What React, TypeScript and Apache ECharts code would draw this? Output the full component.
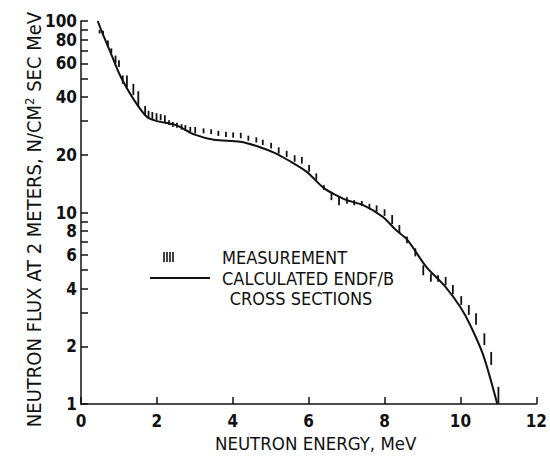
import React, { useEffect, useRef } from "react";
import * as echarts from "echarts";

// Calculated ENDF/B curve
const energyCalc = [0.44, 0.6, 0.79, 1.05, 1.4, 1.74, 2.0, 2.5, 3.0, 3.5, 4.2, 4.7, 5.1, 5.45, 5.95, 6.4, 6.8, 7.0, 7.45, 7.95, 8.3, 8.6, 9.1, 9.6, 10.0, 10.25, 10.6, 10.97];
const fluxCalc = [100, 83, 67.6, 51, 38.6, 31.5, 30.0, 28.6, 25.5, 24.0, 23.4, 22.0, 20.5, 18.8, 16.3, 13.4, 12.1, 11.6, 10.9, 9.5, 8.1, 7.2, 5.2, 4.1, 3.2, 2.6, 1.8, 1.0];

// Measurement (error bars low/high)
const energyMeas = [0.49, 0.58, 0.71, 0.80, 0.91, 1.00, 1.10, 1.21, 1.38, 1.51, 1.69, 1.78, 1.88, 1.99, 2.10, 2.21, 2.32, 2.42, 2.53, 2.65, 2.75, 2.88, 3.01, 3.23, 3.43, 3.62, 3.82, 4.01, 4.21, 4.41, 4.62, 4.79, 5.01, 5.21, 5.42, 5.63, 5.82, 6.01, 6.20, 6.40, 6.60, 6.80, 7.01, 7.20, 7.40, 7.60, 7.79, 8.00, 8.20, 8.39, 8.59, 8.81, 9.02, 9.22, 9.41, 9.61, 9.80, 10.02, 10.22, 10.41, 10.63, 10.81, 11.0];
const fluxLow = [86, 84, 73, 68, 60, 57.5, 47, 45, 41, 36, 32, 31, 30.6, 30.3, 30.3, 29.7, 28.6, 28.0, 27.7, 27.1, 26.7, 26.4, 25.9, 25.9, 25.7, 25.1, 24.8, 24.6, 24.4, 23.7, 23.2, 22.5, 21.6, 20.3, 19.5, 18.4, 18.0, 16.3, 14.8, 13.1, 11.6, 10.9, 11.1, 10.9, 10.8, 10.4, 10.1, 9.6, 8.7, 7.8, 6.9, 5.9, 4.7, 4.35, 4.35, 4.18, 3.75, 3.29, 2.92, 2.59, 2.03, 1.60, 1.0];
const fluxHigh = [90, 89, 79, 72, 66, 62.4, 52, 52, 47, 43, 36, 34, 33.5, 33.0, 32.6, 32.2, 30.3, 29.7, 29.4, 28.9, 28.6, 28.0, 28.0, 27.5, 27.2, 26.7, 26.4, 26.2, 26.1, 25.2, 24.7, 24.0, 23.1, 21.9, 21.0, 19.9, 19.5, 17.7, 16.0, 13.9, 12.6, 12.1, 12.0, 11.6, 11.5, 11.1, 10.9, 10.4, 9.7, 8.6, 7.5, 6.5, 5.3, 4.8, 4.7, 4.6, 4.18, 3.66, 3.29, 2.98, 2.34, 1.87, 1.23];

// Axis ticks / labels
const yLabelValues = [1, 2, 4, 6, 8, 10, 20, 40, 60, 80, 100];
const yTickValues = [1, 2, 3, 4, 5, 6, 7, 8, 9, 10, 20, 30, 40, 50, 60, 70, 80, 90, 100];

const FONT = "'Liberation Sans Narrow', 'DejaVu Sans Condensed', 'Arial Narrow', sans-serif";
const INK = "#111";

export default function App() {
  const ref = useRef<HTMLDivElement>(null);

  useEffect(() => {
    if (!ref.current) return;
    const chart = echarts.init(ref.current, null, { renderer: "svg" });

    const calcData = energyCalc.map((x, i) => [x, fluxCalc[i]]);
    const measData = energyMeas.map((x, i) => [x, fluxLow[i], fluxHigh[i]]);

    const legendBars = [164, 167, 170, 173].map((x) => ({
      type: "line",
      shape: { x1: x, y1: 252, x2: x, y2: 262 },
      style: { stroke: INK, lineWidth: 1.6 },
    }));

    chart.setOption({
      animation: false,
      backgroundColor: "#fff",
      grid: { left: 81, right: 8, top: 21, bottom: 57 },
      xAxis: {
        type: "value",
        min: 0,
        max: 12,
        interval: 2,
        name: "NEUTRON ENERGY, MeV",
        nameLocation: "middle",
        nameGap: 28,
        nameTextStyle: { fontFamily: FONT, fontSize: 18.5, color: INK, padding: [0, 0, 0, 14] },
        axisLine: { lineStyle: { color: INK, width: 1.5 } },
        axisTick: { inside: true, length: 7, lineStyle: { color: INK, width: 1.5 } },
        axisLabel: { fontFamily: FONT, fontWeight: "bold", fontSize: 17, color: INK, margin: 8 },
        splitLine: { show: false },
      },
      yAxis: {
        type: "log",
        logBase: 10,
        min: 1,
        max: 100,
        name: "NEUTRON FLUX AT 2 METERS, N/CM{sup|2} SEC MeV",
        nameLocation: "middle",
        nameRotate: 90,
        nameGap: 36,
        nameMoveOverlap: false,
        nameTextStyle: {
          fontFamily: FONT,
          fontSize: 20,
          color: INK,
          padding: [0, 14, 0, 0],
          rich: {
            sup: { fontFamily: FONT, fontSize: 13, color: INK, verticalAlign: "top", padding: [0, 0, 9, 0] },
          },
        },
        axisLine: { lineStyle: { color: INK, width: 1.5 } },
        axisTick: { inside: true, length: 7, customValues: yTickValues, lineStyle: { color: INK, width: 1.5 } },
        axisLabel: {
          fontFamily: FONT,
          fontWeight: "bold",
          fontSize: 17,
          color: INK,
          margin: 4,
          customValues: yLabelValues,
          formatter: (v: number) => String(Math.round(v)),
        },
        splitLine: { show: false },
        minorTick: { show: false },
      },
      series: [
        {
          name: "CALCULATED ENDF/B CROSS SECTIONS",
          type: "line",
          data: calcData,
          smooth: 0.3,
          showSymbol: false,
          lineStyle: { color: INK, width: 2 },
        },
        {
          name: "MEASUREMENT",
          type: "custom",
          data: measData,
          renderItem: (params: any, api: any) => {
            const p1 = api.coord([api.value(0), api.value(1)]);
            const p2 = api.coord([api.value(0), api.value(2)]);
            return {
              type: "line",
              shape: { x1: p1[0], y1: p1[1], x2: p2[0], y2: p2[1] },
              style: { stroke: INK, lineWidth: 1.8 },
            };
          },
        },
      ],
      graphic: [
        ...legendBars,
        { type: "line", shape: { x1: 150, y1: 278, x2: 210, y2: 278 }, style: { stroke: INK, lineWidth: 1.8 } },
        {
          type: "text",
          x: 222,
          y: 257,
          style: { text: "MEASUREMENT", font: `18px ${FONT}`, fill: INK, textVerticalAlign: "middle" },
        },
        {
          type: "text",
          x: 222,
          y: 278,
          style: { text: "CALCULATED ENDF/B", font: `18px ${FONT}`, fill: INK, textVerticalAlign: "middle" },
        },
        {
          type: "text",
          x: 301,
          y: 298,
          style: { text: "CROSS SECTIONS", font: `18px ${FONT}`, fill: INK, textAlign: "center", textVerticalAlign: "middle" },
        },
      ],
    });

    return () => chart.dispose();
  }, []);

  return <div ref={ref} style={{ position: "fixed", left: 0, top: 0, width: 550, height: 461 }} />;
}
